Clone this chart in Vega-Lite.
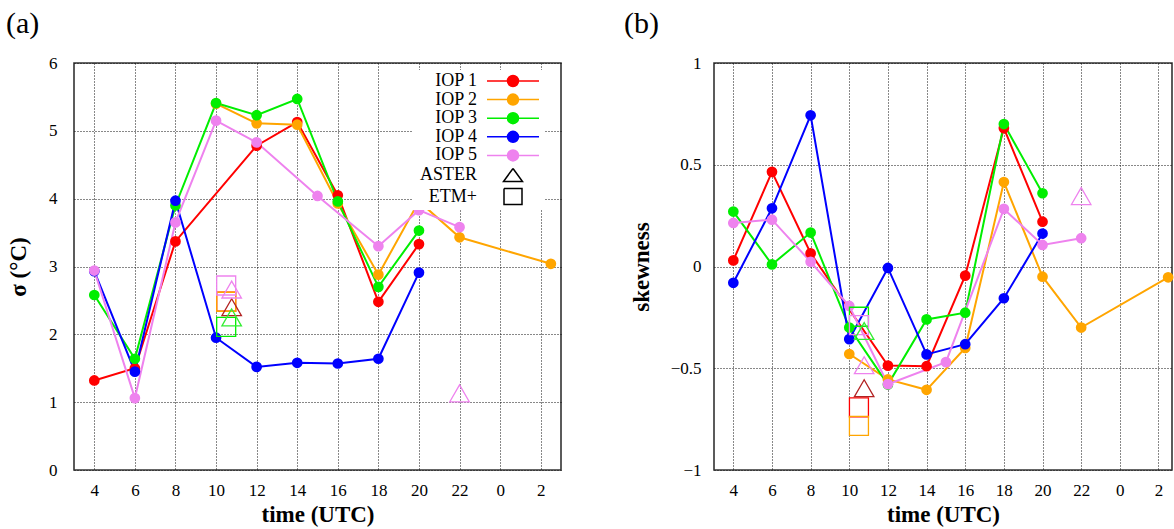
{
  "$schema": "https://vega.github.io/schema/vega-lite/v6.json",
  "background": "white",
  "padding": {"left": 5, "top": 8, "right": 0, "bottom": 0},
  "datasets": {
    "iop": [
      {"series": "IOP 1", "time": 4, "sigma": 1.32, "skewness": 0.03},
      {"series": "IOP 1", "time": 6, "sigma": 1.50, "skewness": 0.465},
      {"series": "IOP 1", "time": 8, "sigma": 3.37, "skewness": 0.065},
      {"series": "IOP 1", "time": 12, "sigma": 4.78, "skewness": -0.487},
      {"series": "IOP 1", "time": 14, "sigma": 5.13, "skewness": -0.49},
      {"series": "IOP 1", "time": 16, "sigma": 4.05, "skewness": -0.045},
      {"series": "IOP 1", "time": 18, "sigma": 2.48, "skewness": 0.68},
      {"series": "IOP 1", "time": 20, "sigma": 3.33, "skewness": 0.22},
      {"series": "IOP 2", "time": 10, "sigma": 5.40, "skewness": -0.43},
      {"series": "IOP 2", "time": 12, "sigma": 5.11, "skewness": -0.555},
      {"series": "IOP 2", "time": 14, "sigma": 5.09, "skewness": -0.606},
      {"series": "IOP 2", "time": 16, "sigma": 3.93, "skewness": -0.40},
      {"series": "IOP 2", "time": 18, "sigma": 2.88, "skewness": 0.415},
      {"series": "IOP 2", "time": 20, "sigma": 3.96, "skewness": -0.05},
      {"series": "IOP 2", "time": 22, "sigma": 3.43, "skewness": -0.30},
      {"series": "IOP 2", "time": 26.5, "sigma": 3.04, "skewness": -0.053},
      {"series": "IOP 3", "time": 4, "sigma": 2.58, "skewness": 0.27},
      {"series": "IOP 3", "time": 6, "sigma": 1.64, "skewness": 0.01},
      {"series": "IOP 3", "time": 8, "sigma": 3.90, "skewness": 0.167},
      {"series": "IOP 3", "time": 10, "sigma": 5.41, "skewness": -0.30},
      {"series": "IOP 3", "time": 12, "sigma": 5.23, "skewness": -0.58},
      {"series": "IOP 3", "time": 14, "sigma": 5.47, "skewness": -0.26},
      {"series": "IOP 3", "time": 16, "sigma": 3.96, "skewness": -0.227},
      {"series": "IOP 3", "time": 18, "sigma": 2.70, "skewness": 0.70},
      {"series": "IOP 3", "time": 20, "sigma": 3.53, "skewness": 0.36},
      {"series": "IOP 4", "time": 4, "sigma": 2.93, "skewness": -0.08},
      {"series": "IOP 4", "time": 6, "sigma": 1.45, "skewness": 0.286},
      {"series": "IOP 4", "time": 8, "sigma": 3.97, "skewness": 0.743},
      {"series": "IOP 4", "time": 10, "sigma": 1.95, "skewness": -0.357},
      {"series": "IOP 4", "time": 12, "sigma": 1.52, "skewness": -0.007},
      {"series": "IOP 4", "time": 14, "sigma": 1.58, "skewness": -0.432},
      {"series": "IOP 4", "time": 16, "sigma": 1.57, "skewness": -0.382},
      {"series": "IOP 4", "time": 18, "sigma": 1.64, "skewness": -0.156},
      {"series": "IOP 4", "time": 20, "sigma": 2.91, "skewness": 0.162},
      {"series": "IOP 5", "time": 4, "sigma": 2.94, "skewness": 0.214},
      {"series": "IOP 5", "time": 6, "sigma": 1.06, "skewness": 0.23},
      {"series": "IOP 5", "time": 8, "sigma": 3.65, "skewness": 0.023},
      {"series": "IOP 5", "time": 10, "sigma": 5.15, "skewness": -0.194},
      {"series": "IOP 5", "time": 12, "sigma": 4.83, "skewness": -0.578},
      {"series": "IOP 5", "time": 15, "sigma": 4.04, "skewness": -0.47},
      {"series": "IOP 5", "time": 18, "sigma": 3.30, "skewness": 0.283},
      {"series": "IOP 5", "time": 20, "sigma": 3.83, "skewness": 0.106},
      {"series": "IOP 5", "time": 22, "sigma": 3.58, "skewness": 0.139}
    ],
    "aster": [
      {"series": "IOP 1", "time": 10.77, "sigma": 2.40, "skewness": -0.598},
      {"series": "IOP 3", "time": 10.77, "sigma": 2.25, "skewness": -0.317},
      {"series": "IOP 5", "time": 10.77, "sigma": 2.66, "skewness": -0.485},
      {"series": "IOP 5", "time": 22, "sigma": 1.13, "skewness": 0.346}
    ],
    "etm": [
      {"series": "IOP 1", "time": 10.5, "sigma": 2.48, "skewness": -0.692},
      {"series": "IOP 2", "time": 10.5, "sigma": 2.48, "skewness": -0.783},
      {"series": "IOP 3", "time": 10.5, "sigma": 2.11, "skewness": -0.247},
      {"series": "IOP 5", "time": 10.5, "sigma": 2.72, "skewness": -0.288}
    ],
    "series": [
      {"series": "IOP 1"}, {"series": "IOP 2"}, {"series": "IOP 3"}, {"series": "IOP 4"},
      {"series": "IOP 5"}, {"series": "ASTER"}, {"series": "ETM+"}
    ]
  },
  "config": {
    "font": "Liberation Serif",
    "view": {"stroke": "#333", "strokeWidth": 1.6},
    "axis": {
      "labelFont": "Liberation Serif", "labelFontSize": 17, "labelColor": "#000",
      "titleFont": "Liberation Serif", "titleFontSize": 23, "titleFontWeight": "bold", "titleColor": "#000",
      "grid": true, "gridColor": "#111", "gridDash": [1, 2], "gridWidth": 1, "gridOpacity": 1,
      "domain": false, "ticks": false
    },
    "legend": {
      "title": null, "orient": "none", "fillColor": "white", "padding": 2,
      "labelFont": "Liberation Serif", "labelFontSize": 18, "labelColor": "#000", "labelAlign": "right", "labelBaseline": "middle",
      "labelOffset": -45, "symbolOffset": 90, "symbolSize": 100, "symbolStrokeWidth": 1.5, "symbolFillColor": "transparent",
      "rowPadding": 0.6, "labelLimit": 200
    },
    "title": {"font": "Liberation Serif", "fontSize": 30, "fontWeight": "normal", "color": "#000", "anchor": "start", "frame": "group", "baseline": "alphabetic", "offset": 15}
  },
  "bounds": "flush",
  "spacing": 153,
  "resolve": {
    "scale": {"color": "independent", "stroke": "independent", "shape": "independent", "x": "independent", "y": "independent"},
    "legend": {"color": "independent", "shape": "independent"}
  },
  "hconcat": [
    {
      "title": {"text": "(a)", "dx": -68},
      "width": 487,
      "height": 407,
      "encoding": {
        "x": {"field": "time", "type": "quantitative", "scale": {"domain": [3, 27], "nice": false, "zero": false},
              "axis": {"values": [4, 6, 8, 10, 12, 14, 16, 18, 20, 22, 24, 26], "labelExpr": "datum.value % 24", "labelPadding": 12, "title": "time (UTC)", "titlePadding": 5}},
        "y": {"field": "sigma", "type": "quantitative", "scale": {"domain": [0, 6], "nice": false},
              "axis": {"values": [0, 1, 2, 3, 4, 5, 6], "labelPadding": 17, "title": "σ (°C)", "titlePadding": 18}}
      },
      "layer": [
        {
          "data": {"name": "iop"},
          "mark": {"type": "line", "strokeWidth": 2},
          "encoding": {"color": {"field": "series", "type": "nominal",
            "scale": {"domain": ["IOP 1", "IOP 2", "IOP 3", "IOP 4", "IOP 5", "ASTER", "ETM+"], "range": ["#ff0000", "#ffa500", "#00ee00", "#0000ff", "#ee82ee", "#000000", "#000000"]}}}
        },
        {
          "data": {"name": "iop"},
          "mark": {"type": "point", "filled": true, "size": 115, "opacity": 1},
          "encoding": {"color": {"field": "series", "type": "nominal",
            "scale": {"domain": ["IOP 1", "IOP 2", "IOP 3", "IOP 4", "IOP 5", "ASTER", "ETM+"], "range": ["#ff0000", "#ffa500", "#00ee00", "#0000ff", "#ee82ee", "#000000", "#000000"]}}}
        },
        {
          "data": {"name": "etm"},
          "mark": {"type": "point", "shape": "square", "filled": false, "size": 361, "strokeWidth": 1.3, "opacity": 1},
          "encoding": {"color": {"field": "series", "type": "nominal",
            "scale": {"domain": ["IOP 1", "IOP 2", "IOP 3", "IOP 4", "IOP 5", "ASTER", "ETM+"], "range": ["#ff0000", "#ffa500", "#00ee00", "#0000ff", "#ee82ee", "#000000", "#000000"]}}}
        },
        {
          "data": {"name": "aster"},
          "mark": {"type": "point", "shape": "triangle-up", "filled": false, "size": 380, "strokeWidth": 1.3, "opacity": 1},
          "encoding": {"stroke": {"field": "series", "type": "nominal", "legend": null,
            "scale": {"domain": ["IOP 1", "IOP 2", "IOP 3", "IOP 4", "IOP 5"], "range": ["#b22222", "#ffa500", "#33ee33", "#0000ff", "#ee82ee"]}}}
        },
        {
          "data": {"name": "series"},
          "mark": {"type": "point", "filled": false, "fill": "transparent", "size": 100, "strokeWidth": 1.5, "opacity": 1},
          "encoding": {
            "color": {"field": "series", "type": "nominal",
              "scale": {"domain": ["IOP 1", "IOP 2", "IOP 3", "IOP 4", "IOP 5", "ASTER", "ETM+"], "range": ["#ff0000", "#ffa500", "#00ee00", "#0000ff", "#ee82ee", "#000000", "#000000"]},
              "legend": {"legendX": 338, "legendY": 7}},
            "shape": {"field": "series", "type": "nominal",
              "scale": {"domain": ["IOP 1", "IOP 2", "IOP 3", "IOP 4", "IOP 5", "ASTER", "ETM+"],
                "range": [
                  "M-5.2,0L5.2,0M-1.1,0A1.1,1.1,0,1,1,1.1,0A1.1,1.1,0,1,1,-1.1,0M-0.8,0A0.8,0.8,0,1,1,0.8,0A0.8,0.8,0,1,1,-0.8,0M-0.5,0A0.5,0.5,0,1,1,0.5,0A0.5,0.5,0,1,1,-0.5,0M-0.2,0A0.2,0.2,0,1,1,0.2,0A0.2,0.2,0,1,1,-0.2,0",
                  "M-5.2,0L5.2,0M-1.1,0A1.1,1.1,0,1,1,1.1,0A1.1,1.1,0,1,1,-1.1,0M-0.8,0A0.8,0.8,0,1,1,0.8,0A0.8,0.8,0,1,1,-0.8,0M-0.5,0A0.5,0.5,0,1,1,0.5,0A0.5,0.5,0,1,1,-0.5,0M-0.2,0A0.2,0.2,0,1,1,0.2,0A0.2,0.2,0,1,1,-0.2,0",
                  "M-5.2,0L5.2,0M-1.1,0A1.1,1.1,0,1,1,1.1,0A1.1,1.1,0,1,1,-1.1,0M-0.8,0A0.8,0.8,0,1,1,0.8,0A0.8,0.8,0,1,1,-0.8,0M-0.5,0A0.5,0.5,0,1,1,0.5,0A0.5,0.5,0,1,1,-0.5,0M-0.2,0A0.2,0.2,0,1,1,0.2,0A0.2,0.2,0,1,1,-0.2,0",
                  "M-5.2,0L5.2,0M-1.1,0A1.1,1.1,0,1,1,1.1,0A1.1,1.1,0,1,1,-1.1,0M-0.8,0A0.8,0.8,0,1,1,0.8,0A0.8,0.8,0,1,1,-0.8,0M-0.5,0A0.5,0.5,0,1,1,0.5,0A0.5,0.5,0,1,1,-0.5,0M-0.2,0A0.2,0.2,0,1,1,0.2,0A0.2,0.2,0,1,1,-0.2,0",
                  "M-5.2,0L5.2,0M-1.1,0A1.1,1.1,0,1,1,1.1,0A1.1,1.1,0,1,1,-1.1,0M-0.8,0A0.8,0.8,0,1,1,0.8,0A0.8,0.8,0,1,1,-0.8,0M-0.5,0A0.5,0.5,0,1,1,0.5,0A0.5,0.5,0,1,1,-0.5,0M-0.2,0A0.2,0.2,0,1,1,0.2,0A0.2,0.2,0,1,1,-0.2,0",
                  "M0,-1.3L1.9,1.3L-1.9,1.3L0,-1.3L-1.9,1.3L1.9,1.3L0,-1.3",
                  "M-1.8,-1.6L1.8,-1.6L1.8,1.6L-1.8,1.6L-1.8,-1.6L-1.8,1.6L1.8,1.6L1.8,-1.6L-1.8,-1.6"
                ]},
              "legend": {"legendX": 338, "legendY": 7}}
          }
        }
      ]
    },
    {
      "title": {"text": "(b)", "dx": -90},
      "width": 458,
      "height": 407,
      "encoding": {
        "x": {"field": "time", "type": "quantitative", "scale": {"domain": [3, 26.7], "nice": false, "zero": false},
              "axis": {"values": [4, 6, 8, 10, 12, 14, 16, 18, 20, 22, 24, 26], "labelExpr": "datum.value % 24", "labelPadding": 12, "title": "time (UTC)", "titlePadding": 5}},
        "y": {"field": "skewness", "type": "quantitative", "scale": {"domain": [-1, 1], "nice": false},
              "axis": {"values": [-1, -0.5, 0, 0.5, 1], "format": ".1~f", "labelPadding": 13, "title": "skewness", "titlePadding": 17}}
      },
      "layer": [
        {
          "mark": {"type": "rule", "color": "#000", "strokeWidth": 3},
          "encoding": {"y": {"datum": 0}, "x": null}
        },
        {
          "data": {"name": "iop"},
          "mark": {"type": "line", "strokeWidth": 2},
          "encoding": {"color": {"field": "series", "type": "nominal", "legend": null,
            "scale": {"domain": ["IOP 1", "IOP 2", "IOP 3", "IOP 4", "IOP 5"], "range": ["#ff0000", "#ffa500", "#00ee00", "#0000ff", "#ee82ee"]}}}
        },
        {
          "data": {"name": "iop"},
          "mark": {"type": "point", "filled": true, "size": 115, "opacity": 1},
          "encoding": {"color": {"field": "series", "type": "nominal", "legend": null,
            "scale": {"domain": ["IOP 1", "IOP 2", "IOP 3", "IOP 4", "IOP 5"], "range": ["#ff0000", "#ffa500", "#00ee00", "#0000ff", "#ee82ee"]}}}
        },
        {
          "data": {"name": "etm"},
          "mark": {"type": "point", "shape": "square", "filled": false, "size": 361, "strokeWidth": 1.3, "opacity": 1},
          "encoding": {"color": {"field": "series", "type": "nominal", "legend": null,
            "scale": {"domain": ["IOP 1", "IOP 2", "IOP 3", "IOP 4", "IOP 5"], "range": ["#ff0000", "#ffa500", "#00ee00", "#0000ff", "#ee82ee"]}}}
        },
        {
          "data": {"name": "aster"},
          "mark": {"type": "point", "shape": "triangle-up", "filled": false, "size": 380, "strokeWidth": 1.3, "opacity": 1},
          "encoding": {"stroke": {"field": "series", "type": "nominal", "legend": null,
            "scale": {"domain": ["IOP 1", "IOP 2", "IOP 3", "IOP 4", "IOP 5"], "range": ["#b22222", "#ffa500", "#33ee33", "#0000ff", "#ee82ee"]}}}
        }
      ]
    }
  ]
}
